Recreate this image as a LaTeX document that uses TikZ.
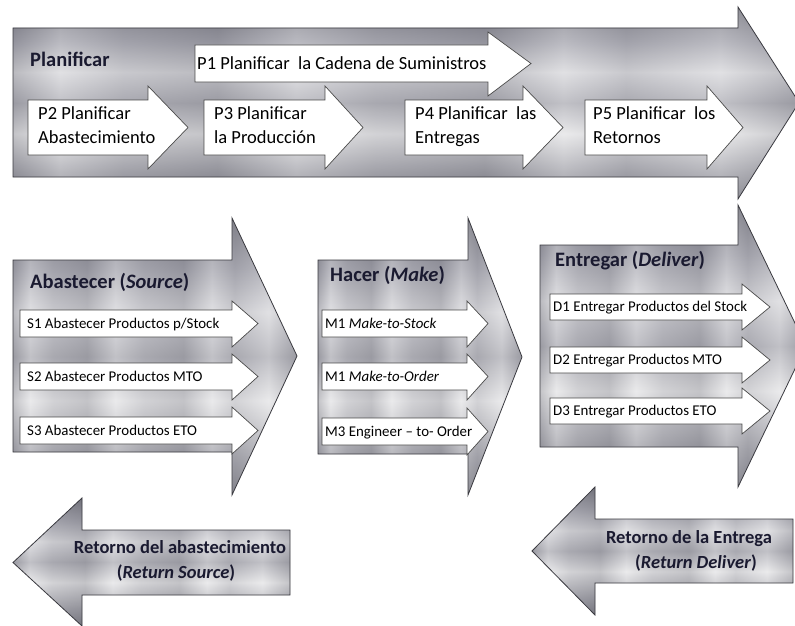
\documentclass[tikz,border=0pt]{standalone}
\usepackage{fontspec}
\setmainfont{Carlito}
\usetikzlibrary{calc}
\definecolor{mA}{HTML}{6A6A74}
\definecolor{mB}{HTML}{9C9CA6}
\definecolor{mC}{HTML}{D4D4D8}
\definecolor{mD}{HTML}{A6A6AE}
\definecolor{mE}{HTML}{E2E2E4}
\definecolor{mF}{HTML}{9A9AA2}
\definecolor{mG}{HTML}{6E6E78}
\definecolor{sDark}{HTML}{808088}
\definecolor{sLight}{HTML}{FFFFFF}
\definecolor{sMid}{HTML}{B0B0B6}
\definecolor{edge}{HTML}{3A3A40}
\definecolor{subedge}{HTML}{4A4A4A}
\definecolor{navy}{HTML}{1A1A30}
\pgfdeclareverticalshading{metal}{100bp}{color(0bp)=(mG); color(25bp)=(mG); color(32bp)=(mF); color(42bp)=(mE); color(50bp)=(mD); color(58bp)=(mC); color(66bp)=(mB); color(75bp)=(mA); color(100bp)=(mA)}
\pgfdeclarehorizontalshading{streaks}{100bp}{color(0bp)=(sDark); color(25bp)=(sDark); color(28bp)=(sLight); color(32bp)=(sMid); color(38bp)=(sDark); color(43bp)=(sLight); color(48bp)=(sMid); color(55bp)=(sDark); color(60bp)=(sLight); color(64bp)=(sMid); color(70bp)=(sLight); color(75bp)=(sDark); color(100bp)=(sDark)}
\tikzset{
  block/.style={shade, shading=metal,
    postaction={shade, shading=streaks, opacity=0.3},
    postaction={draw=edge, line width=0.8pt}},
  subarrow/.style={fill=white, draw=subedge, line width=0.7pt},
  ptext/.style={anchor=base west, inner sep=0pt, font=\fontsize{18.5}{24}\selectfont, text=black},
  htext/.style={anchor=base west, inner sep=0pt, font=\fontsize{20.5}{24}\selectfont\bfseries, text=navy},
  stext/.style={anchor=base west, inner sep=0pt, font=\fontsize{14.9}{17}\selectfont, text=black},
  rtext/.style={anchor=base, inner sep=0pt, font=\fontsize{18.5}{22}\selectfont\bfseries, text=navy}
}
% #1 style, #2 tail x, #3 body top, #4 body bottom, #5 head base x, #6 head top, #7 head bottom, #8 tip x
\newcommand\arrowpath[8]{%
  \path[#1] (#2,#3) -- (#5,#3) -- (#5,#6) -- (#8,{(#3+#4)/2}) -- (#5,#7) -- (#5,#4) -- (#2,#4) -- cycle;}
\begin{document}
\begin{tikzpicture}[x=1pt,y=-1pt]
\useasboundingbox (0,0) rectangle (795,626);
\fill[white] (0,0) rectangle (795,626);
\clip (0,0) rectangle (795,626);

% Planificar
\arrowpath{block}{13}{28}{177}{738}{7}{199}{799}
\arrowpath{subarrow}{195}{45}{82}{488}{32}{96}{531}
\arrowpath{subarrow}{28}{100}{155}{148}{86}{169}{188}
\arrowpath{subarrow}{204}{100}{155}{325}{86}{169}{363}
\arrowpath{subarrow}{405}{100}{155}{523}{86}{169}{563}
\arrowpath{subarrow}{585}{100}{155}{707}{86}{169}{743}
\node[htext] (plan) at (30,66.4) {Planificar};
\node[ptext] (p1) at (197,69.1) {P1 Planificar\ \ la Cadena de Suministros};
\node[ptext] (p2a) at (38,119.1) {P2 Planificar};
\node[ptext] (p2b) at (38,143.1) {Abastecimiento};
\node[ptext] (p3a) at (214,119.1) {P3 Planificar};
\node[ptext] (p3b) at (214,143.1) {la Producción};
\node[ptext] (p4a) at (415,119.1) {P4 Planificar\ \ las};
\node[ptext] (p4b) at (415,143.1) {Entregas};
\node[ptext] (p5a) at (593,119.1) {P5 Planificar\ \ los};
\node[ptext] (p5b) at (593,143.1) {Retornos};

% Source
\arrowpath{block}{13}{260}{452}{232}{218}{495}{297}
\arrowpath{subarrow}{20}{310}{337}{232}{301}{347}{258}
\arrowpath{subarrow}{20}{363}{390}{232}{354}{400}{258}
\arrowpath{subarrow}{20}{417}{444}{232}{407}{454}{258}
\node[htext] (src) at (30,288.6) {Abastecer (\textit{Source})};
\node[stext] (s1) at (27,328.7) {S1 Abastecer Productos p/Stock};
\node[stext] (s2) at (27,381.7) {S2 Abastecer Productos MTO};
\node[stext] (s3) at (27,435.2) {S3 Abastecer Productos ETO};

% Make
\arrowpath{block}{318}{260}{454}{468}{218}{495}{522}
\arrowpath{subarrow}{322}{310}{337}{467}{301}{347}{488}
\arrowpath{subarrow}{322}{363}{390}{467}{354}{400}{488}
\arrowpath{subarrow}{322}{418}{445}{467}{408}{455}{488}
\node[htext] (mk) at (330,281.6) {Hacer (\textit{Make})};
\node[stext] (m1) at (325,328.7) {M1 \textit{Make-to-Stock}};
\node[stext] (m2) at (325,381.7) {M1 \textit{Make-to-Order}};
\node[stext] (m3) at (325,436.2) {M3 Engineer – to- Order};

% Deliver
\arrowpath{block}{540}{245}{447}{738}{205}{487}{806}
\arrowpath{subarrow}{550}{294}{320}{742}{284}{330}{770}
\arrowpath{subarrow}{550}{347}{373}{742}{337}{383}{770}
\arrowpath{subarrow}{550}{398}{424}{742}{388}{434}{770}
\node[htext] (dl) at (555,266.6) {Entregar (\textit{Deliver})};
\node[stext] (d1) at (553,311.7) {D1 Entregar Productos del Stock};
\node[stext] (d2) at (553,364.7) {D2 Entregar Productos MTO};
\node[stext] (d3) at (553,415.7) {D3 Entregar Productos ETO};

% Returns
\arrowpath{block}{290}{530}{595}{82}{498}{626}{13}
\node[rtext] (rs1) at (180,553) {Retorno del abastecimiento};
\node[rtext] (rs2) at (176,578) {(\textit{Return Source})};
\arrowpath{block}{793}{519}{583}{595}{487}{615}{532}
\node[rtext] (rd1) at (689,543) {Retorno de la Entrega};
\node[rtext] (rd2) at (696,568) {(\textit{Return Deliver})};
\end{tikzpicture}
\end{document}
